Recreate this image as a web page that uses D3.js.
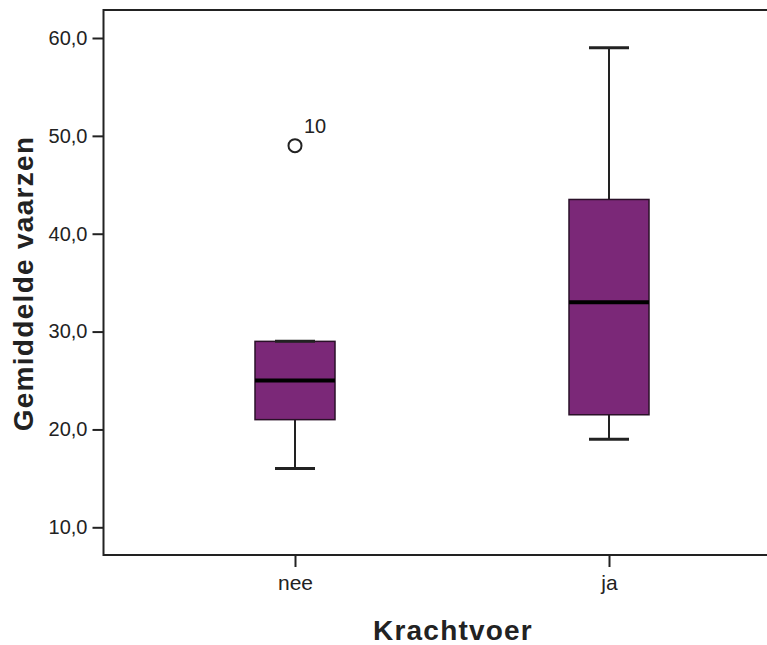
<!DOCTYPE html>
<html><head><meta charset="utf-8">
<script src="https://cdn.jsdelivr.net/npm/d3@7/dist/d3.min.js"></script>
<style>
html,body{margin:0;padding:0;background:#fff;}
svg{display:block;}
text{font-family:"Liberation Sans",Arial,sans-serif;fill:#222;}
</style></head>
<body>
<svg id="chart" width="767" height="645"></svg>
<script>
const categories = ["nee", "ja"];
const q1Values = [21, 21.5];
const medianValues = [25, 33];
const q3Values = [29, 43.5];
const whiskerLow = [16, 19];
const whiskerHigh = [29, 59];
const outlierCats = ["nee"];
const outlierValues = [49];
const outlierLabels = ["10"];
const yTicks = [10, 20, 30, 40, 50, 60];
const xTitle = "Krachtvoer";
const yTitle = "Gemiddelde vaarzen";

(function () {
const svg = d3.select("#chart");
const fLeft = 103.5, fTop = 10, fBottom = 555, fRight = 800;
const y = d3.scaleLinear().domain([10, 60]).range([527.3, 38]);
const x = d3.scalePoint().domain(categories).range([295, 609]);
const boxW = 80, capW = 40;
const purple = "#7b2878";
const ink = "#222";

// frame
svg.append("path")
  .attr("d", `M${fRight},${fTop}H${fLeft}V${fBottom}H${fRight}`)
  .attr("fill", "none").attr("stroke", ink).attr("stroke-width", 2);

// y axis
const yAxis = d3.axisLeft(y).tickValues(yTicks)
  .tickFormat(d => d3.format(".1f")(d).replace(".", ","))
  .tickSize(11).tickPadding(5);
const gy = svg.append("g").attr("transform", `translate(${fLeft},0)`).call(yAxis);
gy.select(".domain").remove();
gy.selectAll(".tick line").attr("stroke", ink).attr("stroke-width", 2);
gy.selectAll(".tick text").attr("font-size", 20).attr("fill", "#222")
  .attr("font-family", "'Liberation Sans',Arial,sans-serif");

// x axis
const xAxis = d3.axisBottom(x).tickSize(12).tickPadding(8);
const gx = svg.append("g").attr("transform", `translate(0,${fBottom})`).call(xAxis);
gx.select(".domain").remove();
gx.selectAll(".tick line").attr("stroke", ink).attr("stroke-width", 2);
gx.selectAll(".tick text").attr("font-size", 21).attr("fill", "#222")
  .attr("font-family", "'Liberation Sans',Arial,sans-serif");

// boxes
const data = categories.map((c, i) => ({
  c, q1: q1Values[i], med: medianValues[i], q3: q3Values[i],
  lo: whiskerLow[i], hi: whiskerHigh[i]
}));
const g = svg.append("g");
data.forEach(d => {
  const cx = x(d.c);
  g.append("line").attr("x1", cx).attr("x2", cx).attr("y1", y(d.hi)).attr("y2", y(d.q3))
    .attr("stroke", ink).attr("stroke-width", 2);
  g.append("line").attr("x1", cx).attr("x2", cx).attr("y1", y(d.q1)).attr("y2", y(d.lo))
    .attr("stroke", ink).attr("stroke-width", 2);
  g.append("rect").attr("x", cx - boxW / 2).attr("width", boxW)
    .attr("y", y(d.q3)).attr("height", y(d.q1) - y(d.q3))
    .attr("fill", purple).attr("stroke", "#2a1028").attr("stroke-width", 1.5);
  g.append("line").attr("x1", cx - boxW / 2).attr("x2", cx + boxW / 2)
    .attr("y1", y(d.med)).attr("y2", y(d.med))
    .attr("stroke", "#000").attr("stroke-width", 4);
  [d.hi, d.lo].forEach(v => {
    g.append("line").attr("x1", cx - capW / 2).attr("x2", cx + capW / 2)
      .attr("y1", y(v)).attr("y2", y(v))
      .attr("stroke", ink).attr("stroke-width", 3);
  });
});

// outliers
outlierValues.forEach((v, i) => {
  const cx = x(outlierCats[i]);
  g.append("circle").attr("cx", cx).attr("cy", y(v)).attr("r", 6.5)
    .attr("fill", "#fff").attr("stroke", ink).attr("stroke-width", 2);
  g.append("text").attr("x", cx + 9).attr("y", y(v) - 13)
    .attr("font-size", 20).text(outlierLabels[i]);
});

// titles
svg.append("text").attr("x", 453).attr("y", 640).attr("text-anchor", "middle")
  .attr("font-size", 28).attr("font-weight", "bold").attr("letter-spacing", 1.2)
  .text(xTitle);
svg.append("text").attr("transform", "translate(33,283.5) rotate(-90)")
  .attr("text-anchor", "middle")
  .attr("font-size", 28).attr("font-weight", "bold").attr("letter-spacing", 1.3)
  .text(yTitle);
})();
</script>
</body></html>
